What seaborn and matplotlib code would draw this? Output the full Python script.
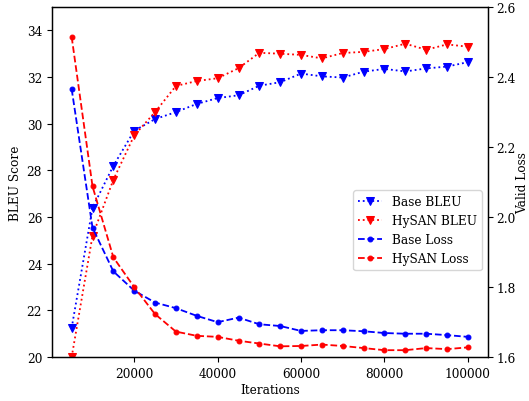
import matplotlib
matplotlib.use("Agg")
import matplotlib.pyplot as plt
import seaborn as sns
import pandas as pd

iterations = [5000, 10000, 15000, 20000, 25000, 30000, 35000, 40000, 45000, 50000,
              55000, 60000, 65000, 70000, 75000, 80000, 85000, 90000, 95000, 100000]
base_bleu = [21.25, 26.4, 28.2, 29.7, 30.2, 30.5, 30.85, 31.1, 31.22, 31.63,
             31.78, 32.15, 32.03, 31.98, 32.23, 32.35, 32.24, 32.37, 32.45, 32.64]
hysan_bleu = [20.0, 25.2, 27.6, 29.5, 30.5, 31.62, 31.83, 31.95, 32.38, 33.04,
              33.0, 32.95, 32.8, 33.03, 33.08, 33.2, 33.43, 33.17, 33.4, 33.3]
base_loss = [2.366, 1.97, 1.845, 1.79, 1.756, 1.74, 1.718, 1.70, 1.713, 1.694,
             1.689, 1.675, 1.677, 1.677, 1.674, 1.669, 1.667, 1.667, 1.663, 1.658]
hysan_loss = [2.515, 2.088, 1.885, 1.80, 1.723, 1.673, 1.661, 1.658, 1.647, 1.639,
              1.631, 1.632, 1.636, 1.632, 1.626, 1.62, 1.62, 1.626, 1.623, 1.628]

plt.rcParams['font.family'] = ['DejaVu Serif']
plt.rcParams['font.size'] = 8.7
plt.rcParams['axes.linewidth'] = 0.9

df = pd.DataFrame({"Iterations": iterations, "base_bleu": base_bleu, "hysan_bleu": hysan_bleu,
                   "base_loss": base_loss, "hysan_loss": hysan_loss})

fig = plt.figure(figsize=(5.29, 4.02), dpi=100)
ax = fig.add_axes([0.098, 0.109, 0.824, 0.871])
ax2 = ax.twinx()

sns.lineplot(data=df, x="Iterations", y="base_bleu", ax=ax, color="blue", linestyle=":",
             marker="v", markersize=6, markeredgecolor="blue", linewidth=1.3, label="Base BLEU", legend=False)
sns.lineplot(data=df, x="Iterations", y="hysan_bleu", ax=ax, color="red", linestyle=":",
             marker="v", markersize=6, markeredgecolor="red", linewidth=1.3, label="HySAN BLEU", legend=False)
sns.lineplot(data=df, x="Iterations", y="base_loss", ax=ax2, color="blue", linestyle="--",
             marker="o", markersize=3.5, markeredgecolor="blue", linewidth=1.3, label="Base Loss", legend=False)
sns.lineplot(data=df, x="Iterations", y="hysan_loss", ax=ax2, color="red", linestyle="--",
             marker="o", markersize=3.5, markeredgecolor="red", linewidth=1.3, label="HySAN Loss", legend=False)

ax.set_ylim(20, 35)
ax2.set_ylim(1.6, 2.6)
ax.set_yticks([20, 22, 24, 26, 28, 30, 32, 34])
ax2.set_yticks([1.6, 1.8, 2.0, 2.2, 2.4, 2.6])
ax.set_xticks([20000, 40000, 60000, 80000, 100000])
ax2.tick_params(axis="y", pad=2.5)
ax.set_xlabel("Iterations", labelpad=2)
ax.set_ylabel("BLEU Score", labelpad=3)
ax2.set_ylabel("Valid Loss", labelpad=0.5)

h1, l1 = ax.get_legend_handles_labels()
h2, l2 = ax2.get_legend_handles_labels()
ax2.legend(h1 + h2, l1 + l2, loc="center right", bbox_to_anchor=(1.0, 0.363))

fig.savefig("out.png", dpi=100)
